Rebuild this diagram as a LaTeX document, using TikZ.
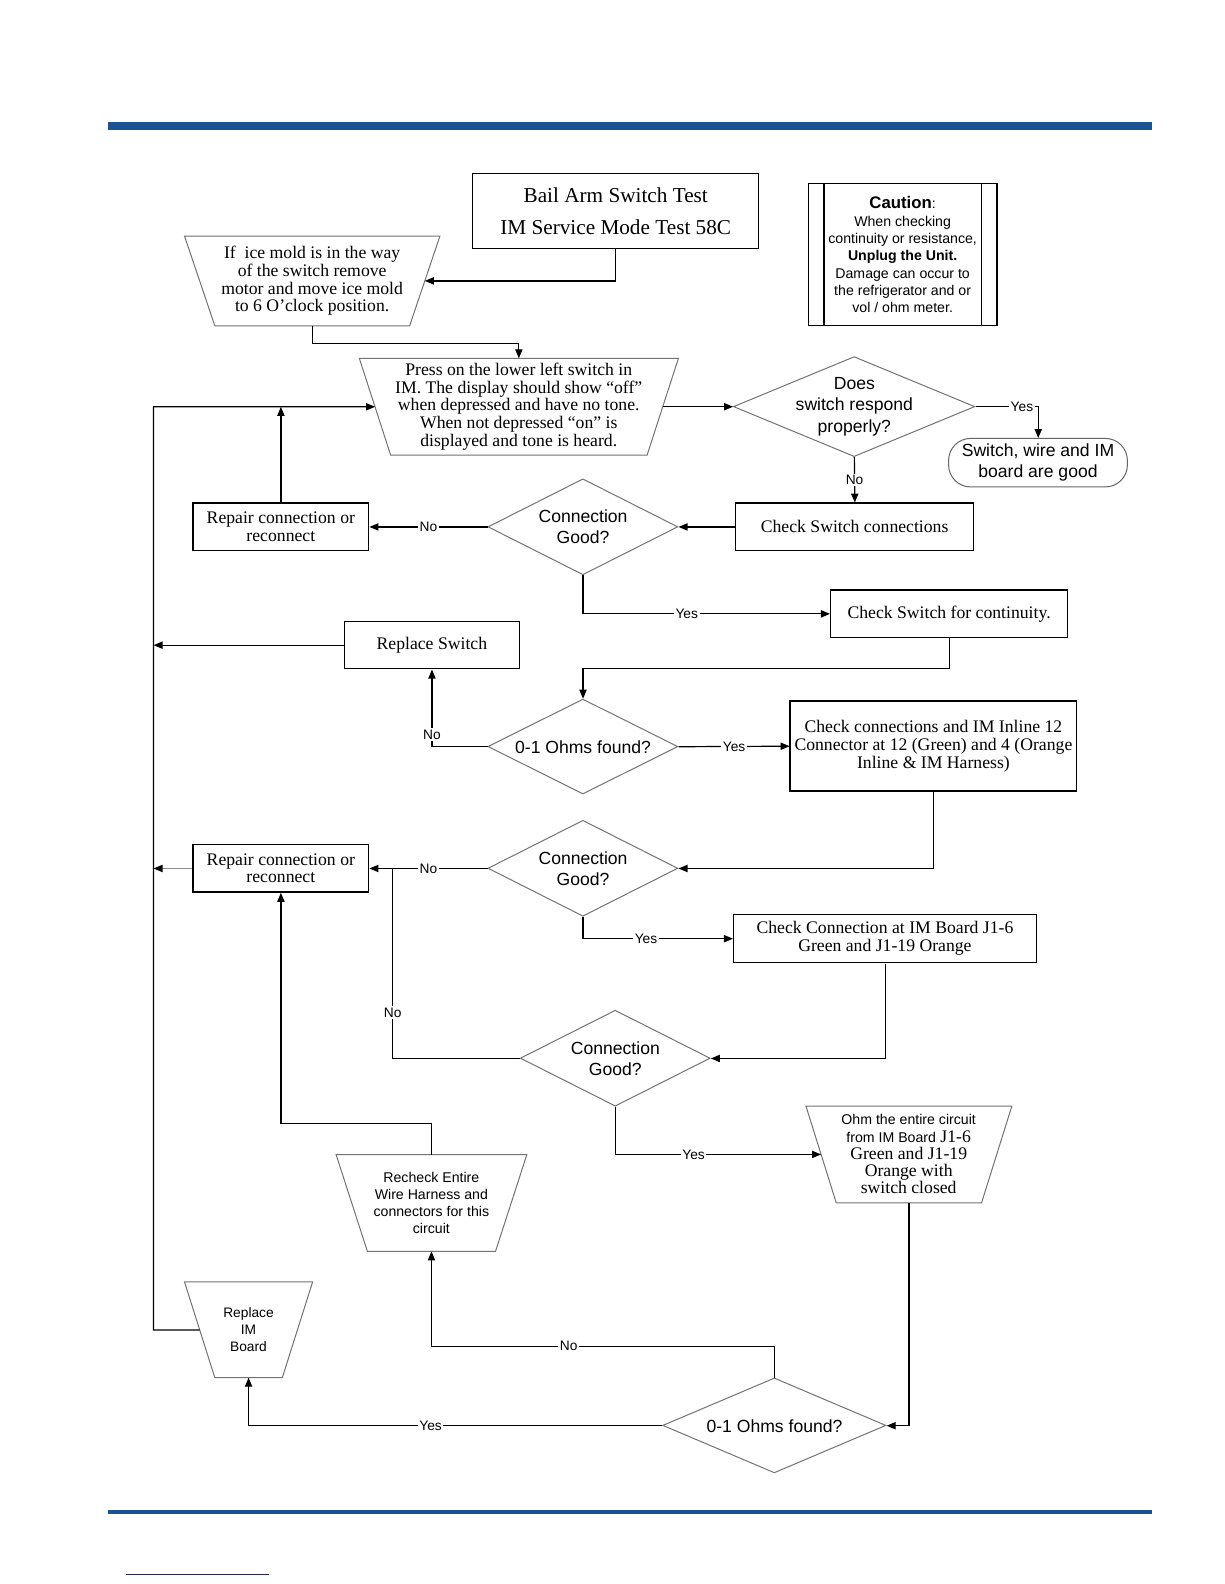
\documentclass[tikz,border=0pt]{standalone}
\usepackage{fontspec}
\setmainfont{Liberation Serif}
\setsansfont{Liberation Sans}
\usetikzlibrary{arrows.meta,calc,shapes.geometric}
\definecolor{barblue}{HTML}{1A5294}
\definecolor{linkblue}{HTML}{1C1C8C}
\begin{document}
\begin{tikzpicture}[x=0.5pt,y=-0.5pt,scale=1.0101,
  every node/.append style={transform shape},
  arr/.style={-{Triangle[length=4.5pt,width=3.6pt]}, line width=0.6pt},
  conn/.style={line width=0.6pt},
  rbox/.style={draw, line width=0.6pt, inner sep=1pt, align=center, font=\fontsize{8.75}{8.8}\selectfont},
  dec/.style={diamond, draw=black!55, line width=0.5pt, inner sep=0pt},
  dtext/.style={align=center, inner sep=0pt, font=\sffamily\fontsize{8.7}{10.5}\selectfont},
  trap/.style={align=center, inner sep=0pt},
  trapline/.style={draw=black!55, line width=0.5pt},
  lab/.style={fill=white, inner sep=0.8pt, font=\sffamily\fontsize{6.8}{7}\selectfont},
]
\useasboundingbox (0,0) rectangle (1212,1568);
\fill[white] (0,0) rectangle (1212,1568);

% page decorations
\fill[barblue] (107,121) rectangle (1140,128.7);
\fill[barblue] (107,1494.8) rectangle (1140,1498.6);
\draw[linkblue, line width=0.55pt] (125,1559) -- (266,1559);

% title and caution
\node[rbox, minimum width=141.5pt, minimum height=37pt, font=\fontsize{10.5}{16}\selectfont] (title) at (609.5,209) {Bail Arm Switch Test\\IM Service Mode Test 58C};
\node[draw, line width=0.6pt, minimum width=93.5pt, minimum height=70pt, inner sep=0pt, align=center, font=\sffamily\fontsize{7}{8.5}\selectfont] (caution) at (893.5,252)
 {{\fontsize{8.3}{9}\selectfont\bfseries Caution}:\\[0.3pt]When checking\\continuity or resistance,\\\textbf{Unplug the Unit.}\\Damage can occur to\\the refrigerator and or\\vol / ohm meter.};
\draw[line width=0.6pt] ($(caution.north west)+(16,0)$) -- ($(caution.south west)+(16,0)$);
\draw[line width=0.6pt] ($(caution.north east)+(-16,0)$) -- ($(caution.south east)+(-16,0)$);

% trapezoid 1
\node[trap, minimum width=126pt, minimum height=44pt, font=\fontsize{8.75}{8.8}\selectfont] (t1) at (309,278)
 {If\ \ ice mold is in the way\\of the switch remove\\motor and move ice mold\\to 6 O'clock position.};
\draw[trapline] (t1.north west) -- (t1.north east) -- ($(t1.south east)+(-30,0)$) -- ($(t1.south west)+(30,0)$) -- cycle;

% trapezoid 2
\node[trap, minimum width=157.5pt, minimum height=47.5pt, font=\fontsize{8.75}{8.8}\selectfont] (t2) at (513.5,402.5)
 {Press on the lower left switch in\\IM. The display should show “off”\\when depressed and have no tone.\\When not depressed “on” is\\displayed and tone is heard.};
\draw[trapline] (t2.north west) -- (t2.north east) -- ($(t2.south east)+(-31,0)$) -- ($(t2.south west)+(31,0)$) -- cycle;

% decision 1
\node[dec, minimum width=119.5pt, minimum height=49.5pt] (d1) at (845.5,402.5) {};
\node[dtext] (d1t) at (d1) {Does\\switch respond\\properly?};

% terminal
\node[draw=black!60, line width=0.5pt, rounded corners=11pt, minimum width=88.5pt, minimum height=24pt, inner sep=0pt, align=center, font=\sffamily\fontsize{8.7}{10.5}\selectfont] (term) at (1027.5,458) {Switch, wire and IM\\board are good};

% row 2
\node[rbox, minimum width=118pt, minimum height=23.5pt] (csc) at (846,521.5) {Check Switch connections};
\node[dec, minimum width=94pt, minimum height=47.5pt] (d2) at (577,521.5) {};
\node[dtext] (d2t) at (d2) {Connection\\Good?};
\node[rbox, minimum width=87pt, minimum height=23.5pt] (r1) at (278,521.5) {Repair connection or\\reconnect};

% row 3
\node[rbox, minimum width=117.5pt, minimum height=23.5pt] (ccont) at (939.5,607.5) {Check Switch for continuity.};
\node[rbox, minimum width=86.5pt, minimum height=23.5pt] (rs) at (427.5,638.5) {Replace Switch};

% row 4
\node[dec, minimum width=94pt, minimum height=47pt] (d3) at (577,739) {};
\node[dtext] (d3t) at (d3) {0-1 Ohms found?};
\node[rbox, minimum width=142pt, minimum height=44.5pt, inner sep=0pt] (cc12) at (924,738.5) {Check connections and IM Inline 12\\Connector at 12 (Green) and 4 (Orange\\Inline \& IM Harness)};

% row 5
\node[dec, minimum width=94pt, minimum height=47.5pt] (d4) at (577,859.5) {};
\node[dtext] (d4t) at (d4) {Connection\\Good?};
\node[rbox, minimum width=87pt, minimum height=23.5pt] (r2) at (278,859.5) {Repair connection or\\reconnect};
\node[rbox, minimum width=150pt, minimum height=24pt, font=\fontsize{8.75}{9}\selectfont] (cb) at (876,929) {Check Connection at IM Board J1-6\\Green and J1-19 Orange};

% row 6
\node[dec, minimum width=94pt, minimum height=47.5pt] (d5) at (609,1047.5) {};
\node[dtext] (d5t) at (d5) {Connection\\Good?};

\node[trap, minimum width=101.5pt, minimum height=47.5pt, font=\fontsize{8.75}{8.5}\selectfont] (t3) at (899.5,1142.5)
 {{\sffamily\fontsize{7}{8.5}\selectfont Ohm the entire circuit}\\{\sffamily\fontsize{7}{8.5}\selectfont from IM Board} J1-6\\Green and J1-19\\Orange with\\switch closed};
\draw[trapline] (t3.north west) -- (t3.north east) -- ($(t3.south east)+(-30,0)$) -- ($(t3.south west)+(30,0)$) -- cycle;

\node[trap, minimum width=94pt, minimum height=47.5pt, font=\sffamily\fontsize{7}{8.35}\selectfont] (t4) at (427,1190.5)
 {Recheck Entire\\Wire Harness and\\connectors for this\\circuit};
\draw[trapline] (t4.north west) -- (t4.north east) -- ($(t4.south east)+(-31,0)$) -- ($(t4.south west)+(31,0)$) -- cycle;

\node[trap, minimum width=63pt, minimum height=47pt, font=\sffamily\fontsize{6.8}{8.25}\selectfont] (t5) at (246,1316)
 {Replace\\IM\\Board};
\draw[trapline] (t5.north west) -- (t5.north east) -- ($(t5.south east)+(-30,0)$) -- ($(t5.south west)+(30,0)$) -- cycle;

\node[dec, minimum width=110.5pt, minimum height=47pt] (d6) at (766.5,1411) {};
\node[dtext] (d6t) at (d6) {0-1 Ohms found?};

% left return line coordinates
\coordinate (lt) at (152,402.5);
\coordinate (t2in) at ($(t2.west)+(15.5,0)$);
\coordinate (t5out) at ($(t5.west)+(15,0)$);

% connectors
\draw[arr] (title.south) |- ($(t1.east)+(-15,0)$);
\draw[arr] (t1.south) |- ($(t2.north)+(0,-15)$) -- (t2.north);
\draw[arr] ($(t2.east)+(-15.5,0)$) -- (d1.west);
\draw[arr] (d1.east) -| node[lab, pos=0.37] {Yes} (term.north);
\draw[arr] (d1.south) -- node[lab] {No} (csc.north);
\draw[arr] (csc.west) -- (d2.east);
\draw[arr] (d2.west) -- node[lab] {No} (r1.east);
\draw[arr] (r1.north) -- (r1.north |- t2in);
\draw[arr] (d2.south) |- node[lab, pos=0.71] {Yes} (ccont.west);
\draw[arr] (ccont.south) |- ($(d3.north)+(0,-30)$) -- (d3.north);
\draw[arr] (d3.west) -| node[lab, pos=0.58] {No} (rs.south);
\draw[arr] (rs.west) -- (rs.west -| lt);
\draw[arr] (d3.east) -- node[lab] {Yes} (cc12.west);
\draw[arr] (cc12.south) |- (d4.east);
\draw[arr] (d4.west) -- node[lab] {No} (r2.east);
\draw[-{Triangle[length=4.5pt,width=3.6pt,color=black]}, line width=0.6pt, draw=black!45] (r2.west) -- (r2.west -| lt);
\draw[arr] (d4.south) |- node[lab, pos=0.71] {Yes} (cb.west);
\draw[arr] (cb.south) |- (d5.east);
\draw[conn] (d5.west) -| node[lab, pos=0.62] {No} ($(r2.east)+(23,0)$);
\draw[arr] (d5.south) |- node[lab, pos=0.69] {Yes} ($(t3.west)+(15,0)$);
\draw[arr] (t3.south) |- (d6.east);
\draw[arr] (d6.north) |- node[lab, pos=0.8] {No} ($(t4.south)+(0,94)$) -- (t4.south);
\draw[arr] (t4.north) -- ++(0,-31) -| (r2.south);
\draw[arr] (d6.west) -| node[lab, pos=0.28] {Yes} (t5.south);
\draw[arr] (t5out) -| (lt) -- (t2in);
\end{tikzpicture}
\end{document}
